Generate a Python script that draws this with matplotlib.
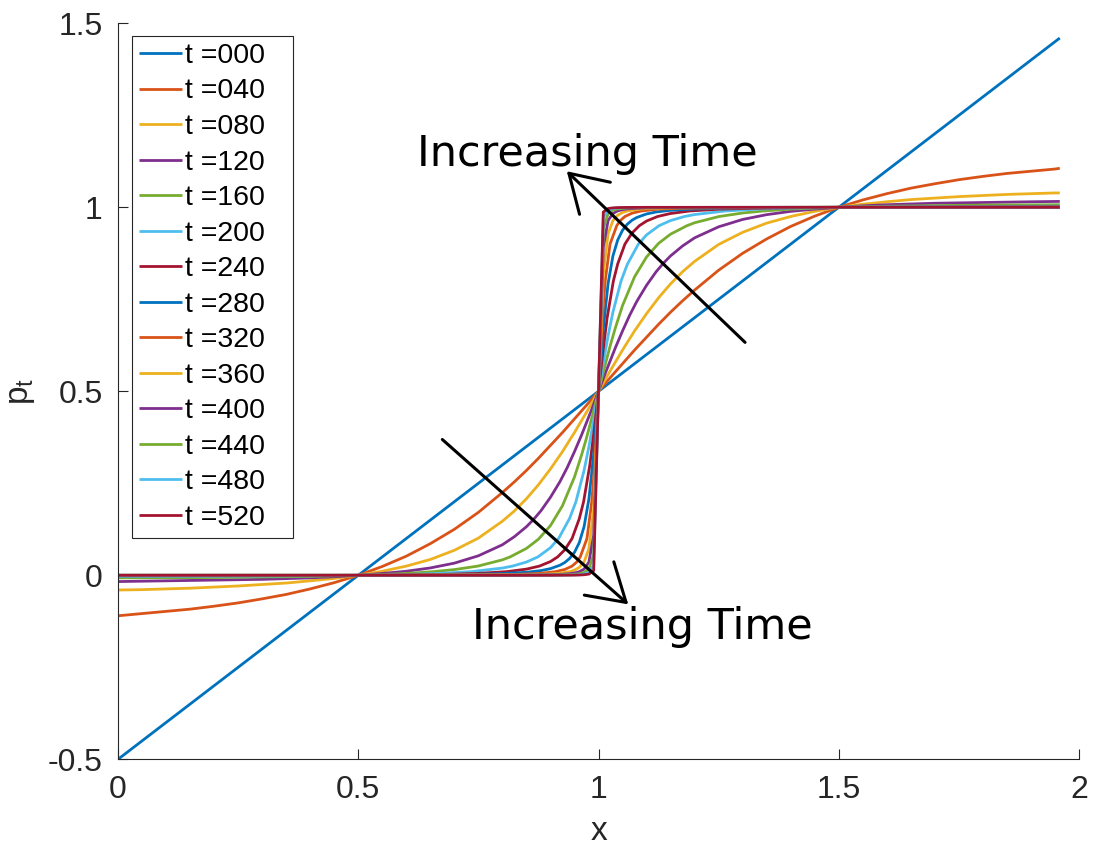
import matplotlib
matplotlib.use("Agg")
import matplotlib.pyplot as plt

# ---------------- data ----------------
times = ["000", "040", "080", "120", "160", "200", "240",
         "280", "320", "360", "400", "440", "480", "520"]

x_t000 = [0.0, 1.96]
p_t000 = [-0.5, 1.46]

x_t040 = [0.0, 0.05, 0.1, 0.15, 0.2, 0.25, 0.3, 0.35, 0.4, 0.45, 0.5, 0.55, 0.6, 0.65, 0.7, 0.75,
          0.8, 0.825, 0.85, 0.875, 0.9, 0.925, 0.95, 0.975, 1.0,
          1.025, 1.05, 1.075, 1.1, 1.125, 1.15, 1.175, 1.2, 1.25, 1.3, 1.35, 1.4, 1.45, 1.5,
          1.55, 1.6, 1.65, 1.7, 1.75, 1.8, 1.85, 1.9, 1.95, 1.96]
p_t040 = [-0.110, -0.104, -0.098, -0.092, -0.084, -0.075, -0.064, -0.052, -0.037, -0.020, 0.0,
          0.024, 0.052, 0.086, 0.125, 0.171, 0.225, 0.254, 0.285, 0.318, 0.353, 0.388, 0.425,
          0.462, 0.5,
          0.538, 0.575, 0.612, 0.647, 0.682, 0.715, 0.746, 0.775, 0.829, 0.875, 0.914, 0.948,
          0.976, 1.0, 1.020, 1.037, 1.052, 1.064, 1.075, 1.084, 1.092, 1.098, 1.104, 1.106]

x_t080 = [0.0, 0.05, 0.1, 0.15, 0.2, 0.25, 0.3, 0.35, 0.4, 0.45, 0.5, 0.55, 0.6, 0.65, 0.7, 0.75,
          0.8, 0.825, 0.85, 0.875, 0.9, 0.925, 0.95, 0.975, 1.0,
          1.025, 1.05, 1.075, 1.1, 1.125, 1.15, 1.175, 1.2, 1.25, 1.3, 1.35, 1.4, 1.45, 1.5,
          1.55, 1.6, 1.65, 1.7, 1.75, 1.8, 1.85, 1.9, 1.95, 1.96]
p_t080 = [-0.040, -0.039, -0.037, -0.035, -0.032, -0.029, -0.025, -0.021, -0.015, -0.0085, 0.0,
          0.011, 0.025, 0.043, 0.068, 0.101, 0.147, 0.175, 0.208, 0.246, 0.289, 0.336, 0.388,
          0.443, 0.5,
          0.557, 0.612, 0.664, 0.711, 0.754, 0.792, 0.825, 0.853, 0.899, 0.932, 0.957, 0.975,
          0.989, 1.0, 1.0085, 1.015, 1.021, 1.025, 1.029, 1.032, 1.035, 1.037, 1.039, 1.039]

x_t120 = [0.0, 0.1, 0.2, 0.3, 0.4, 0.45, 0.5, 0.55, 0.6, 0.65, 0.7, 0.75, 0.8, 0.825, 0.85,
          0.865, 0.88, 0.9, 0.92, 0.935, 0.95, 0.965, 0.975, 0.985, 1.0,
          1.015, 1.025, 1.035, 1.05, 1.065, 1.08, 1.1, 1.12, 1.135, 1.15, 1.175, 1.2, 1.25,
          1.3, 1.35, 1.4, 1.45, 1.5, 1.55, 1.6, 1.7, 1.8, 1.9, 1.96]
p_t120 = [-0.017, -0.015, -0.013, -0.011, -0.007, -0.004, 0.0, 0.005, 0.011, 0.020, 0.033,
          0.053, 0.083, 0.105, 0.132, 0.152, 0.175, 0.212, 0.255, 0.293, 0.336, 0.382, 0.415,
          0.448, 0.5,
          0.552, 0.585, 0.618, 0.664, 0.707, 0.745, 0.788, 0.825, 0.848, 0.868, 0.895, 0.917,
          0.947, 0.967, 0.980, 0.989, 0.995, 1.0, 1.004, 1.007, 1.011, 1.013, 1.015, 1.016]

x_t160 = [0.0, 0.1, 0.2, 0.3, 0.4, 0.5, 0.557, 0.6, 0.657, 0.7, 0.749, 0.8, 0.816, 0.85, 0.875,
          0.9, 0.925, 0.95, 0.965, 0.975, 0.9805, 0.99, 1.0,
          1.01, 1.0195, 1.025, 1.035, 1.05, 1.075, 1.1, 1.125, 1.15, 1.184, 1.2, 1.251, 1.3,
          1.343, 1.4, 1.443, 1.5, 1.6, 1.7, 1.8, 1.9, 1.96]
p_t160 = [-0.007, -0.0065, -0.006, -0.0045, -0.003, 0.0, 0.0025, 0.005, 0.01, 0.0155, 0.025,
          0.042, 0.05, 0.073, 0.098, 0.135, 0.189, 0.267, 0.328, 0.373, 0.4, 0.448, 0.5,
          0.552, 0.6, 0.627, 0.672, 0.733, 0.811, 0.865, 0.902, 0.927, 0.95, 0.958, 0.975,
          0.9845, 0.99, 0.995, 0.9975, 1.0, 1.003, 1.0045, 1.006, 1.0065, 1.007]

x_t200 = [0.0, 0.2, 0.4, 0.5, 0.608, 0.668, 0.736, 0.8, 0.821, 0.85, 0.874, 0.9, 0.917, 0.94,
          0.953, 0.97, 0.98, 0.987, 1.0,
          1.013, 1.02, 1.03, 1.047, 1.06, 1.083, 1.1, 1.126, 1.15, 1.179, 1.2, 1.264, 1.332,
          1.392, 1.5, 1.6, 1.8, 1.96]
p_t200 = [-0.003, -0.0025, -0.0013, 0.0, 0.0025, 0.005, 0.01, 0.0197, 0.025, 0.036, 0.05, 0.075,
          0.1, 0.155, 0.2, 0.285, 0.349, 0.4, 0.5,
          0.6, 0.651, 0.715, 0.8, 0.845, 0.9, 0.925, 0.95, 0.964, 0.975, 0.9803, 0.99, 0.995,
          0.9975, 1.0, 1.0013, 1.0025, 1.003]

x_t240 = [0.0, 0.25, 0.5, 0.68, 0.747, 0.81, 0.85, 0.877, 0.9, 0.915, 0.93, 0.945, 0.96, 0.969,
          0.982, 0.9915, 1.0,
          1.0085, 1.018, 1.031, 1.04, 1.055, 1.07, 1.085, 1.1, 1.123, 1.15, 1.19, 1.253, 1.32,
          1.5, 1.75, 1.96]
p_t240 = [-0.0012, -0.001, 0.0, 0.0025, 0.005, 0.01, 0.0168, 0.025, 0.0373, 0.05, 0.0696, 0.1,
          0.1537, 0.2, 0.3, 0.4, 0.5,
          0.6, 0.7, 0.8, 0.8463, 0.9, 0.9304, 0.95, 0.9627, 0.975, 0.9832, 0.99, 0.995, 0.9975,
          1.0, 1.001, 1.0012]

x_t280 = [0.0, 0.5, 0.6, 0.7, 0.8, 0.85, 0.88, 0.9, 0.92, 0.93, 0.94, 0.95, 0.96, 0.97, 0.98,
          0.99, 1.0, 1.01, 1.02, 1.03, 1.04, 1.05, 1.06, 1.07, 1.08, 1.1, 1.12, 1.15, 1.2, 1.3,
          1.4, 1.5, 1.96]
p_t280 = [0.0, 0.0, 0.0005, 0.0013, 0.0047, 0.0082, 0.0127, 0.0181, 0.0275, 0.0349, 0.0459,
          0.0624, 0.0887, 0.1323, 0.2069, 0.3299, 0.5, 0.6701, 0.7931, 0.8677, 0.9113, 0.9376,
          0.9541, 0.9651, 0.9725, 0.9819, 0.9873, 0.9918, 0.9953, 0.9987, 0.9995, 1.0, 1.0]

x_t320 = [0.0, 0.5, 0.829, 0.876, 0.911, 0.93, 0.945, 0.955, 0.962, 0.976, 0.986, 0.992, 0.996,
          1.0, 1.004, 1.008, 1.014, 1.024, 1.038, 1.045, 1.055, 1.07, 1.089, 1.124, 1.171, 1.5,
          1.96]
p_t320 = [0.0, 0.0, 0.0025, 0.005, 0.01, 0.0159, 0.025, 0.0365, 0.05, 0.1, 0.2, 0.3, 0.4, 0.5,
          0.6, 0.7, 0.8, 0.9, 0.95, 0.9635, 0.975, 0.9841, 0.99, 0.995, 0.9975, 1.0, 1.0]

x_t360 = [0.0, 0.5, 0.7, 0.8, 0.85, 0.9, 0.92, 0.94, 0.95, 0.96, 0.97, 0.98, 0.99, 1.0, 1.01,
          1.02, 1.03, 1.04, 1.05, 1.06, 1.08, 1.1, 1.15, 1.2, 1.3, 1.5, 1.96]
p_t360 = [0.0, 0.0, 0.0004, 0.0009, 0.0016, 0.0036, 0.0056, 0.0098, 0.014, 0.0214, 0.0362,
          0.072, 0.1812, 0.5, 0.8188, 0.928, 0.9638, 0.9786, 0.986, 0.9902, 0.9944, 0.9964,
          0.9984, 0.9991, 0.9996, 1.0, 1.0]

x_t400 = [0.0, 0.5, 0.8, 0.85, 0.9, 0.92, 0.94, 0.95, 0.96, 0.97, 0.98, 0.99, 1.0, 1.01, 1.02,
          1.03, 1.04, 1.05, 1.06, 1.08, 1.1, 1.15, 1.2, 1.5, 1.96]
p_t400 = [0.0, 0.0, 0.0004, 0.0007, 0.0016, 0.0025, 0.0044, 0.0063, 0.0097, 0.0169, 0.0357,
          0.1094, 0.5, 0.8906, 0.9643, 0.9831, 0.9903, 0.9937, 0.9956, 0.9975, 0.9984, 0.9993,
          0.9996, 1.0, 1.0]

x_t440 = [0.0, 0.5, 0.85, 0.9, 0.92, 0.94, 0.95, 0.96, 0.97, 0.98, 0.99, 1.0, 1.01, 1.02, 1.03,
          1.04, 1.05, 1.06, 1.08, 1.1, 1.15, 1.5, 1.96]
p_t440 = [0.0, 0.0, 0.0003, 0.0007, 0.0011, 0.0019, 0.0028, 0.0043, 0.0076, 0.0166, 0.0579, 0.5,
          0.9421, 0.9834, 0.9924, 0.9957, 0.9972, 0.9981, 0.9989, 0.9993, 0.9997, 1.0, 1.0]

x_t480 = [0.0, 0.5, 0.9, 0.92, 0.94, 0.95, 0.96, 0.97, 0.98, 0.99, 1.0, 1.01, 1.02, 1.03, 1.04,
          1.05, 1.06, 1.08, 1.1, 1.5, 1.96]
p_t480 = [0.0, 0.0, 0.0003, 0.0005, 0.0008, 0.0012, 0.0019, 0.0034, 0.0075, 0.028, 0.5, 0.972,
          0.9925, 0.9966, 0.9981, 0.9988, 0.9992, 0.9995, 0.9997, 1.0, 1.0]

x_t520 = [0.0, 0.5, 0.9, 0.94, 0.95, 0.96, 0.97, 0.98, 0.99, 1.0, 1.01, 1.02, 1.03, 1.04, 1.05,
          1.06, 1.1, 1.5, 1.96]
p_t520 = [0.0, 0.0, 0.0001, 0.0004, 0.0005, 0.0008, 0.0015, 0.0033, 0.0128, 0.5, 0.9872, 0.9967,
          0.9985, 0.9992, 0.9995, 0.9996, 0.9999, 1.0, 1.0]

xs_all = [x_t000, x_t040, x_t080, x_t120, x_t160, x_t200, x_t240,
          x_t280, x_t320, x_t360, x_t400, x_t440, x_t480, x_t520]
ps_all = [p_t000, p_t040, p_t080, p_t120, p_t160, p_t200, p_t240,
          p_t280, p_t320, p_t360, p_t400, p_t440, p_t480, p_t520]

x_ticks = [0, 0.5, 1, 1.5, 2]
x_ticklabels = ["0", "0.5", "1", "1.5", "2"]
y_ticks = [-0.5, 0, 0.5, 1, 1.5]
y_ticklabels = ["-0.5", "0", "0.5", "1", "1.5"]

annot_text = "Increasing Time"
arrow_up_tail, arrow_up_head = (1.305, 0.633), (0.934, 1.098)
arrow_dn_tail, arrow_dn_head = (0.675, 0.369), (1.062, -0.079)
text_up_pos = (0.977, 1.112)
text_dn_pos = (1.0905, -0.174)

# ---------------- style ----------------
colors = ["#0072BD", "#D95319", "#EDB120", "#7E2F8E", "#77AC30", "#4DBEEE", "#A2142F"]
axcol = "#262626"
plt.rcParams["font.family"] = ["Liberation Sans", "DejaVu Sans"]
plt.rcParams["mathtext.default"] = "regular"

fig = plt.figure(figsize=(10.94, 8.46), dpi=100)
ax = fig.add_axes([0.10786, 0.10248, 0.87843, 0.86998])

for i, (xs, ps) in enumerate(zip(xs_all, ps_all)):
    ax.plot(xs, ps, color=colors[i % len(colors)], lw=2.0, label="t =" + times[i],
            solid_joinstyle="round", solid_capstyle="butt")

ax.set_xlim(0, 2)
ax.set_ylim(-0.5, 1.5)
ax.set_xticks(x_ticks)
ax.set_xticklabels(x_ticklabels)
ax.set_yticks(y_ticks)
ax.set_yticklabels(y_ticklabels)
for s in ["top", "right"]:
    ax.spines[s].set_visible(False)
for s in ["left", "bottom"]:
    ax.spines[s].set_color(axcol)
    ax.spines[s].set_linewidth(0.8)
ax.tick_params(direction="in", length=7, width=0.8, colors=axcol, labelsize=23, pad=11)

ax.set_xlabel("x", fontsize=24, color=axcol, labelpad=8)
ax.set_ylabel("$p_t$", fontsize=24, color=axcol, labelpad=8)

leg = ax.legend(loc="upper left", bbox_to_anchor=(0.0143, 0.3, 0.1675, 0.683),
                mode="expand", borderaxespad=0,
                fontsize=20.5, handlelength=1.5, handletextpad=0.12, labelspacing=0.335,
                borderpad=0.25, fancybox=False, framealpha=1, edgecolor=axcol)
leg.get_frame().set_linewidth(0.8)

arrowstyle = "->,head_length=26,head_width=16"
for tail, head in [(arrow_up_tail, arrow_up_head), (arrow_dn_tail, arrow_dn_head)]:
    ax.annotate("", xy=head, xytext=tail,
                arrowprops=dict(arrowstyle=arrowstyle, mutation_scale=1, lw=2.2,
                                color="black", shrinkA=0, shrinkB=0))

ax.text(text_up_pos[0], text_up_pos[1], annot_text, fontsize=31, family="DejaVu Sans",
        ha="center", va="baseline", color="black")
ax.text(text_dn_pos[0], text_dn_pos[1], annot_text, fontsize=31, family="DejaVu Sans",
        ha="center", va="baseline", color="black")

fig.savefig("out.png", dpi=100)
